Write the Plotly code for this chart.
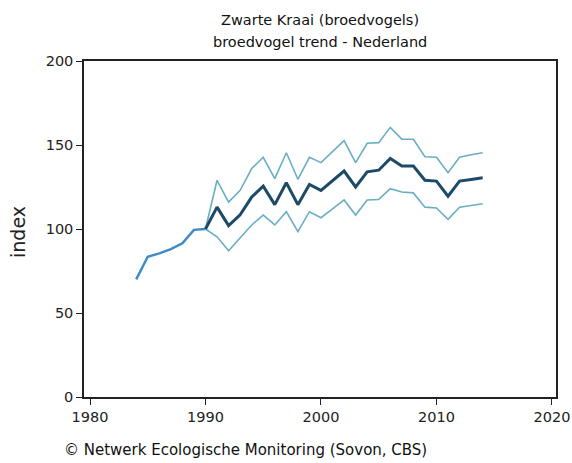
import plotly.graph_objects as go

years_early = [1984, 1985, 1986, 1987, 1988, 1989, 1990]
index_early = [70, 83.5, 85.5, 88, 91.5, 99.5, 100]

years = list(range(1990, 2015))
index_main = [100, 113, 102, 108.5, 119, 125.5, 114.5, 127.5, 114.5, 126.5, 123,
              128.5, 134.5, 125, 134, 135, 142, 137.5, 137.5, 129, 128.5,
              119.5, 128.5, 129.5, 130.5]
index_upper = [100, 129, 116, 123, 136, 142.7, 130, 145.4, 129.6, 142.7, 139.5,
               146, 152.6, 139.5, 151, 151.4, 160.5, 153.5, 153.4, 143, 142.7,
               133.5, 142.7, 144.2, 145.4]
index_lower = [100, 95.4, 87, 94.5, 102.4, 108.3, 102.4, 110.3, 98.4, 110.3, 106.7,
               112, 117.3, 108.3, 117.3, 117.6, 124, 122, 121.5, 113, 112.5,
               105.8, 113, 114, 115]

x_ticks = [1980, 1990, 2000, 2010, 2020]
y_ticks = [0, 50, 100, 150, 200]

title_lines = ["Zwarte Kraai (broedvogels)", "broedvogel trend - Nederland"]
y_title = "index"
footer = "© Netwerk Ecologische Monitoring (Sovon, CBS)"

band_color = "#6aaec4"
main_color = "#1d4a68"
early_color = "#3f8cc4"

fig = go.Figure()
fig.add_trace(go.Scatter(x=years, y=index_upper, mode="lines",
                         line=dict(color=band_color, width=1.6), hoverinfo="skip"))
fig.add_trace(go.Scatter(x=years, y=index_lower, mode="lines",
                         line=dict(color=band_color, width=1.6), hoverinfo="skip"))
fig.add_trace(go.Scatter(x=years_early, y=index_early, mode="lines",
                         line=dict(color=early_color, width=2.5)))
fig.add_trace(go.Scatter(x=years, y=index_main, mode="lines",
                         line=dict(color=main_color, width=3)))

font_family = "DejaVu Sans, Verdana, sans-serif"

fig.update_layout(
    width=572, height=463,
    margin=dict(l=84, r=16, t=61, b=66, autoexpand=False),
    paper_bgcolor="white", plot_bgcolor="white",
    showlegend=False,
    font=dict(family=font_family, color="#222222", size=14),
    xaxis=dict(range=[1979.48, 2020.35], tickvals=x_ticks, ticks="outside",
               ticklen=6, tickwidth=1.2, tickcolor="#222222", automargin=False,
               showline=True, linecolor="#222222", linewidth=1.5, mirror=True,
               showgrid=False, zeroline=False,
               tickfont=dict(size=14.5, color="#222222")),
    yaxis=dict(range=[0, 200], tickvals=y_ticks, ticks="outside",
               ticklen=6, tickwidth=1.2, tickcolor="#222222", automargin=False,
               showline=True, linecolor="#222222", linewidth=1.5, mirror=True,
               showgrid=False, zeroline=False,
               tickfont=dict(size=14.5, color="#222222")),
)

fig.add_annotation(text=title_lines[0], xref="paper", yref="paper", x=0.5, y=1,
                   yshift=41, showarrow=False, xanchor="center", yanchor="middle",
                   font=dict(size=14.5, color="#111111"))
fig.add_annotation(text=title_lines[1], xref="paper", yref="paper", x=0.5, y=1,
                   yshift=19, showarrow=False, xanchor="center", yanchor="middle",
                   font=dict(size=14.5, color="#111111"))
fig.add_annotation(text=y_title, xref="paper", yref="paper", x=0, y=0.5,
                   xshift=-66, yshift=-3, textangle=-90, showarrow=False,
                   xanchor="center", yanchor="middle",
                   font=dict(size=19, color="#222222"))
fig.add_annotation(text=footer, xref="paper", yref="paper", x=0, y=0,
                   xshift=-22, yshift=-53, showarrow=False, xanchor="left",
                   yanchor="middle", font=dict(size=15, color="#111111"))

fig.write_html("out.html", config={"responsive": False, "displayModeBar": False},
               post_script="document.body.style.margin='0';document.body.style.overflow='hidden';")
